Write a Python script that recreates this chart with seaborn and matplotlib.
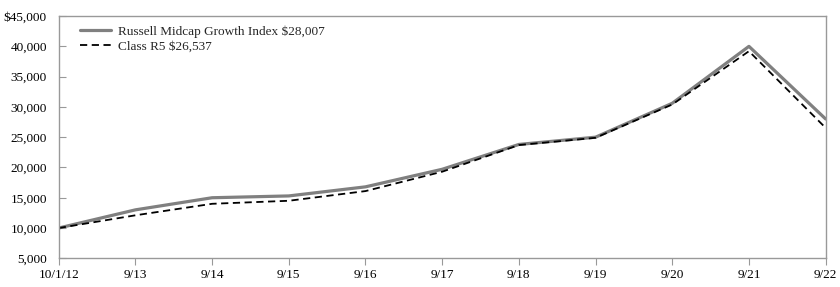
import matplotlib
matplotlib.use("Agg")
import matplotlib.pyplot as plt
import seaborn as sns
import pandas as pd
from matplotlib.ticker import FuncFormatter, FixedLocator

dates = ["10/1/12", "9/13", "9/14", "9/15", "9/16", "9/17", "9/18", "9/19", "9/20", "9/21", "9/22"]
index_vals = [10000, 13000, 15000, 15300, 16800, 19700, 23800, 25000, 30600, 40000, 28007]
r5_vals = [10000, 12100, 14000, 14500, 16100, 19300, 23700, 24900, 30400, 39200, 26537]
index_label = "Russell Midcap Growth Index $28,007"
r5_label = "Class R5 $26,537"

sns.set_theme(style="white")
plt.rcParams["font.family"] = ["Liberation Serif", "DejaVu Serif"]

df = pd.DataFrame({
    "x": list(range(len(dates))) * 2,
    "value": index_vals + r5_vals,
    "series": [index_label] * len(dates) + [r5_label] * len(dates),
})

fig = plt.figure(figsize=(8.4, 2.87), dpi=100)
ax = fig.add_axes([0.0699, 0.1, 0.913, 0.844])

sns.lineplot(data=df, x="x", y="value", hue="series", style="series",
             palette={index_label: "#808080", r5_label: "#000000"},
             dashes={index_label: "", r5_label: (4, 2.5)},
             size="series", sizes={index_label: 2.3, r5_label: 1.3},
             ax=ax, legend=True)

ax.set_xlim(0, len(dates) - 1)
ax.set_ylim(5000, 45000)
ax.xaxis.set_major_locator(FixedLocator(range(len(dates))))
ax.set_xticklabels(dates)
ax.yaxis.set_major_locator(FixedLocator(range(5000, 45001, 5000)))
ax.yaxis.set_major_formatter(FuncFormatter(lambda v, p: f"${v:,.0f}" if v == 45000 else f"{v:,.0f}"))
ax.set_xlabel("")
ax.set_ylabel("")

for s in ax.spines.values():
    s.set_color("#999999")
    s.set_linewidth(1.0)

ax.tick_params(axis="x", direction="out", length=5, width=0.8, color="#999999", labelsize=9.5, pad=2.5, bottom=True)
ax.tick_params(axis="y", direction="in", length=5, width=0.8, color="#999999", labelsize=9.5, pad=8.5, left=True)
for lbl in ax.get_xticklabels() + ax.get_yticklabels():
    lbl.set_color("#000000")

handles, labels = ax.get_legend_handles_labels()
leg = ax.legend(handles=handles, labels=labels, loc="upper left", frameon=False,
                fontsize=9.5, handlelength=2.3, borderaxespad=0.3,
                bbox_to_anchor=(0.016, 1.0), labelspacing=0.2, handletextpad=0.6)

fig.savefig("out.png", dpi=100)
